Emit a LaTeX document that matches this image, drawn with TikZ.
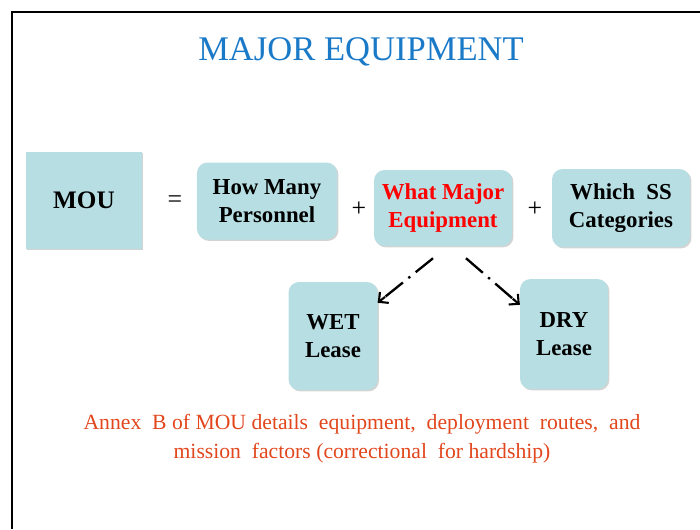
\documentclass[tikz,border=0pt]{standalone}
\usepackage{fontspec}
\setmainfont{Liberation Serif}
\usepackage{xcolor}
\usepackage{tikz}
\usetikzlibrary{arrows.meta,shadows,calc,positioning}

\definecolor{boxblue}{HTML}{B7DFE3}
\definecolor{titleblue}{HTML}{1A7AC8}
\definecolor{annexred}{HTML}{E2461C}

\tikzset{
  umou/.style={draw=none, fill=boxblue, minimum width=3.48cm, minimum height=2.91cm,
    drop shadow={shadow xshift=1.2pt, shadow yshift=-1.2pt, opacity=0.35},
    font=\fontsize{21.5}{26}\selectfont\bfseries},
  ubox/.style={umou, rounded corners=9pt, align=center,
    font=\fontsize{19.5}{24.5}\selectfont\bfseries},
  uop/.style={font=\fontsize{22}{26}\selectfont},
  ulease/.style={draw, line width=2pt, dash pattern=on 19pt off 6pt on 2pt off 6pt},
  uleasetip/.style={draw, line width=1.8pt, solid,
    -{Straight Barb[length=6pt,width=12pt]}}
}

\begin{document}
\begin{tikzpicture}[x=0.03cm, y=-0.03cm]

\useasboundingbox (0,0) rectangle (700,529);
\draw[line width=1.7pt] (12,529) -- (12,12) -- (700,12);

\node[text=titleblue, font=\fontsize{29.5}{34}\selectfont] (title) at (361,52) {MAJOR EQUIPMENT};

\node[umou] (mou) at (84,200) {MOU};
\node[uop] (eq) at (175,202) {=};
\node[ubox, minimum width=4.2cm, minimum height=2.31cm] (personnel) at (267,201) {How\ Many\\Personnel};
\node[uop] (plusa) at (359,209) {+};
\node[ubox, minimum width=4.14cm, minimum height=2.28cm, text=red] (equipment) at (443,208) {What Major\\Equipment};
\node[uop] (plusb) at (535,209) {+};
\node[ubox, minimum width=4.14cm, minimum height=2.34cm] (categories) at (621,208) {Which\ \ SS\\Categories};

\node[ubox, minimum width=2.67cm, minimum height=3.24cm] (wet) at (333,336) {WET\\Lease};
\node[ubox, minimum width=2.64cm, minimum height=3.3cm] (dry) at (564,334) {DRY\\Lease};

\coordinate (wetfrom) at ($(equipment.south)+(-10,12)$);
\coordinate (dryfrom) at ($(equipment.south)+(23,12)$);
\coordinate (wetto) at ($(wet.north east)+(0,21)$);
\coordinate (dryto) at ($(dry.north west)+(0,26)$);
\draw[ulease] (wetfrom) -- (wetto);
\draw[ulease] (dryfrom) -- (dryto);
\draw[uleasetip] ($(wetto)!8pt!(wetfrom)$) -- (wetto);
\draw[uleasetip] ($(dryto)!8pt!(dryfrom)$) -- (dryto);

\node[text=annexred, align=center, font=\fontsize{18.5}{25}\selectfont] (annex) at (362,439)
  {Annex\ \ B of MOU details\ \ equipment,\ \ deployment\ \ routes,\ \ and\\
   mission\ \ factors (correctional\ \ for hardship)};

\end{tikzpicture}
\end{document}
